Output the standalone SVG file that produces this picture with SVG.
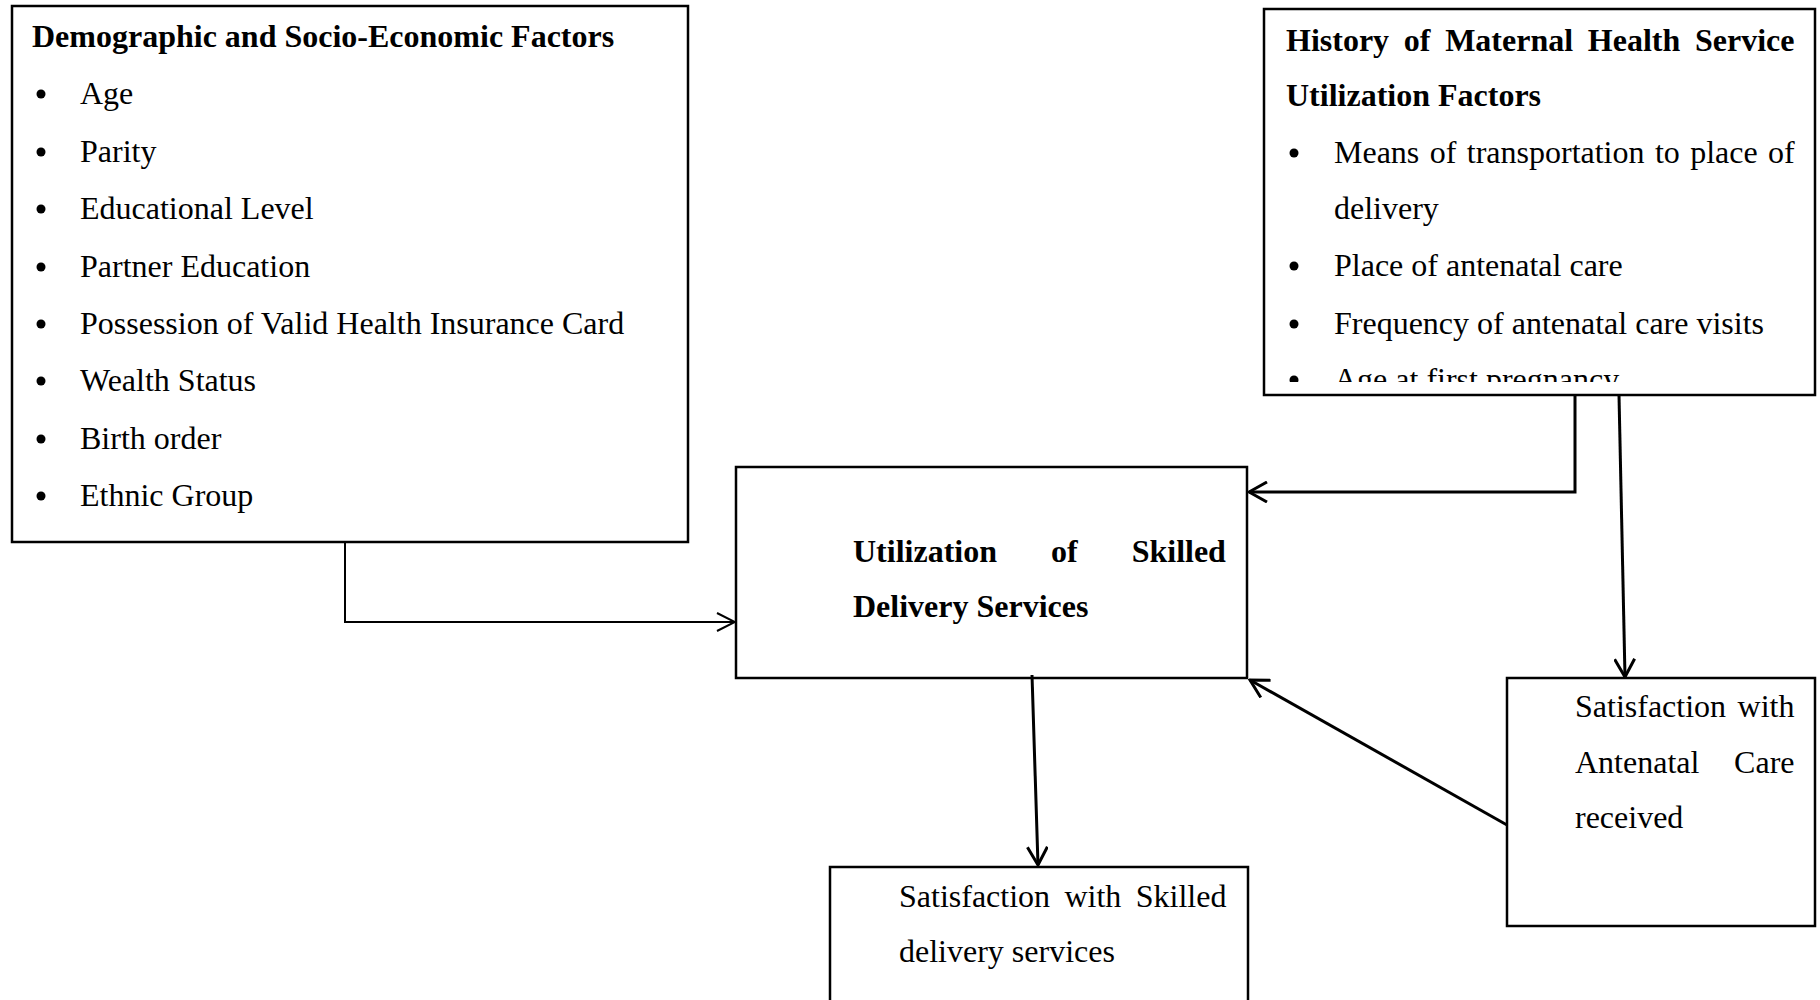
<svg xmlns="http://www.w3.org/2000/svg" width="1820" height="1000" viewBox="0 0 1820 1000">
<style>
.box{fill:#fff;stroke:#000;stroke-width:2.5}
.t{font-family:"Liberation Serif","Times New Roman",serif;font-size:32px;fill:#000}
.b{font-weight:bold}
.con{fill:none;stroke:#000;stroke-width:3}
.thin{stroke-width:2}
</style>
<defs>
<marker id="arr" viewBox="0 0 22 22" refX="20" refY="11" markerWidth="22" markerHeight="22" markerUnits="userSpaceOnUse" orient="auto">
<path d="M2,1 L20,11 L2,21" fill="none" stroke="#000" stroke-width="3"/>
</marker>
<marker id="arrThin" viewBox="0 0 22 22" refX="20" refY="11" markerWidth="22" markerHeight="22" markerUnits="userSpaceOnUse" orient="auto">
<path d="M2,2 L20,11 L2,20" fill="none" stroke="#000" stroke-width="2"/>
</marker>
<clipPath id="clipHist"><rect x="1264" y="9" width="551" height="373"/></clipPath>
</defs>
<rect width="1820" height="1000" fill="#fff"/>

<g id="demographic">
<rect class="box" x="12" y="6" width="676" height="536"/>
<text class="t b" x="32" y="47">Demographic and Socio-Economic Factors</text>
<g fill="#000">
<circle cx="41" cy="94" r="4.5"/><circle cx="41" cy="152" r="4.5"/><circle cx="41" cy="209" r="4.5"/><circle cx="41" cy="267" r="4.5"/>
<circle cx="41" cy="324" r="4.5"/><circle cx="41" cy="381" r="4.5"/><circle cx="41" cy="439" r="4.5"/><circle cx="41" cy="496" r="4.5"/>
</g>
<text class="t" x="80" y="104">Age</text>
<text class="t" x="80" y="162">Parity</text>
<text class="t" x="80" y="219">Educational Level</text>
<text class="t" x="80" y="277">Partner Education</text>
<text class="t" x="80" y="334">Possession of Valid Health Insurance Card</text>
<text class="t" x="80" y="391">Wealth Status</text>
<text class="t" x="80" y="449">Birth order</text>
<text class="t" x="80" y="506">Ethnic Group</text>
</g>

<g id="history">
<rect class="box" x="1264" y="9" width="551" height="386"/>
<g clip-path="url(#clipHist)">
<text class="t b" x="1286" y="51" style="word-spacing:6.7px">History of Maternal Health Service</text>
<text class="t b" x="1286" y="106">Utilization Factors</text>
<g fill="#000">
<circle cx="1294" cy="153" r="4.5"/><circle cx="1294" cy="266" r="4.5"/><circle cx="1294" cy="324" r="4.5"/><circle cx="1294" cy="380" r="4.5"/>
</g>
<text class="t" x="1334" y="163" style="word-spacing:2.4px">Means of transportation to place of</text>
<text class="t" x="1334" y="219">delivery</text>
<text class="t" x="1334" y="276">Place of antenatal care</text>
<text class="t" x="1334" y="334">Frequency of antenatal care visits</text>
<text class="t" x="1334" y="390">Age at first pregnancy</text>
</g>
</g>

<g id="utilization">
<rect class="box" x="736" y="467" width="511" height="211"/>
<text class="t b" x="853" y="562" style="word-spacing:46px">Utilization of Skilled</text>
<text class="t b" x="853" y="617">Delivery Services</text>
</g>

<g id="satisfaction-skilled">
<rect class="box" x="830" y="867" width="418" height="160"/>
<text class="t" x="899" y="907" style="word-spacing:6.4px">Satisfaction with Skilled</text>
<text class="t" x="899" y="962">delivery services</text>
</g>

<g id="satisfaction-antenatal">
<rect class="box" x="1507" y="678" width="308" height="248"/>
<text class="t" x="1575" y="717" style="word-spacing:3.5px">Satisfaction with</text>
<text class="t" x="1575" y="773" style="word-spacing:26.7px">Antenatal Care</text>
<text class="t" x="1575" y="828">received</text>
</g>

<g id="connectors">
<polyline class="con thin" points="345,542 345,622 735,622" marker-end="url(#arrThin)"/>
<polyline class="con" points="1575,395 1575,492 1249,492" marker-end="url(#arr)"/>
<line class="con" x1="1619" y1="395" x2="1625" y2="677" marker-end="url(#arr)"/>
<line class="con" x1="1507" y1="825" x2="1250" y2="680" marker-end="url(#arr)"/>
<line class="con" x1="1032" y1="675" x2="1038" y2="865" marker-end="url(#arr)"/>
</g>
</svg>
